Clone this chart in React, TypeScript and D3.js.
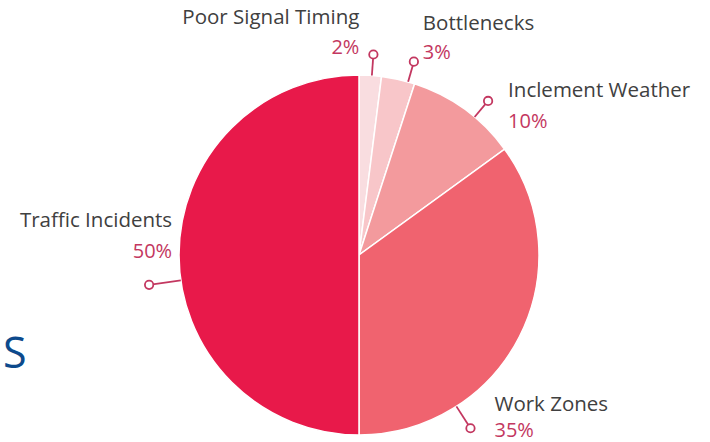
import * as d3 from 'd3';
import React, { useEffect, useRef } from 'react';

const categories = ['Poor Signal Timing', 'Bottlenecks', 'Inclement Weather', 'Work Zones', 'Traffic Incidents'];
const shares = [2, 3, 10, 35, 50];
const sliceColors = ['#F9DDE0', '#F8C6C9', '#F39A9D', '#F0636F', '#E8194A'];

// where along each slice the leader line sits, and how its label is placed
const leaderLayout = [
    { t: 0.57, len: 201, anchor: 'end', dx: -14, nameDy: -31, pctDy: -1 },
    { t: 0.8, len: 201, anchor: 'start', dx: 9, nameDy: -32, pctDy: -3 },
    { t: 0.61, len: 201, anchor: 'start', dx: 20, nameDy: -4, pctDy: 27 },
    { t: 0.74, len: 206, anchor: 'start', dx: 24, nameDy: -17, pctDy: 9 },
    { t: 0.455, len: 212, anchor: 'end', dx: 23, nameDy: -58, pctDy: -27 },
];

const App: React.FC = () => {
    const svgRef = useRef<SVGSVGElement>(null);

    useEffect(() => {
        if (!svgRef.current) return;
        d3.select(svgRef.current).selectAll('*').remove();

        const width = 710;
        const height = 442;
        const cx = 359;
        const cy = 255;
        const radius = 180;
        const font = '"Open Sans", "Segoe UI", sans-serif';

        const svg = d3.select(svgRef.current)
            .attr('width', width)
            .attr('height', height);

        const pie = d3.pie<number>().sort(null).value(d => d);
        const arcs = pie(shares);
        const arc = d3.arc<d3.PieArcDatum<number>>().innerRadius(0).outerRadius(radius);

        const g = svg.append('g').attr('transform', `translate(${cx},${cy})`);

        g.selectAll('path')
            .data(arcs)
            .join('path')
            .attr('d', arc)
            .attr('fill', (d, i) => sliceColors[i])
            .attr('stroke', '#fff')
            .attr('stroke-width', 1.5);

        const leaderColor = '#C33760';

        arcs.forEach((a, i) => {
            const lay = leaderLayout[i];
            const ang = a.startAngle + lay.t * (a.endAngle - a.startAngle);
            const p = (r: number) => [r * Math.sin(ang), -r * Math.cos(ang)];
            const [x0, y0] = p(radius);
            const [x1, y1] = p(lay.len);

            g.append('line')
                .attr('x1', x0).attr('y1', y0)
                .attr('x2', x1).attr('y2', y1)
                .attr('stroke', leaderColor)
                .attr('stroke-width', 1.8);
            g.append('circle')
                .attr('cx', x1).attr('cy', y1)
                .attr('r', 4.2)
                .attr('fill', '#fff')
                .attr('stroke', leaderColor)
                .attr('stroke-width', 1.8);

            const tx = x1 + lay.dx;
            g.append('text')
                .attr('x', tx)
                .attr('y', y1 + lay.nameDy)
                .attr('text-anchor', lay.anchor)
                .attr('font-family', font)
                .attr('font-size', 20.5)
                .attr('fill', '#404040')
                .text(categories[i]);
            g.append('text')
                .attr('x', tx)
                .attr('y', y1 + lay.pctDy)
                .attr('text-anchor', lay.anchor)
                .attr('font-family', font)
                .attr('font-size', 20)
                .attr('fill', leaderColor)
                .text(`${shares[i]}%`);
        });

        // clipped title fragment on the left
        svg.append('text')
            .attr('x', 3)
            .attr('y', 368)
            .attr('font-family', font)
            .attr('font-size', 43)
            .attr('fill', '#0D4A8C')
            .text('S');
    }, []);

    return <svg ref={svgRef} style={{ position: 'absolute', left: 0, top: 0 }}></svg>;
};

export default App;
